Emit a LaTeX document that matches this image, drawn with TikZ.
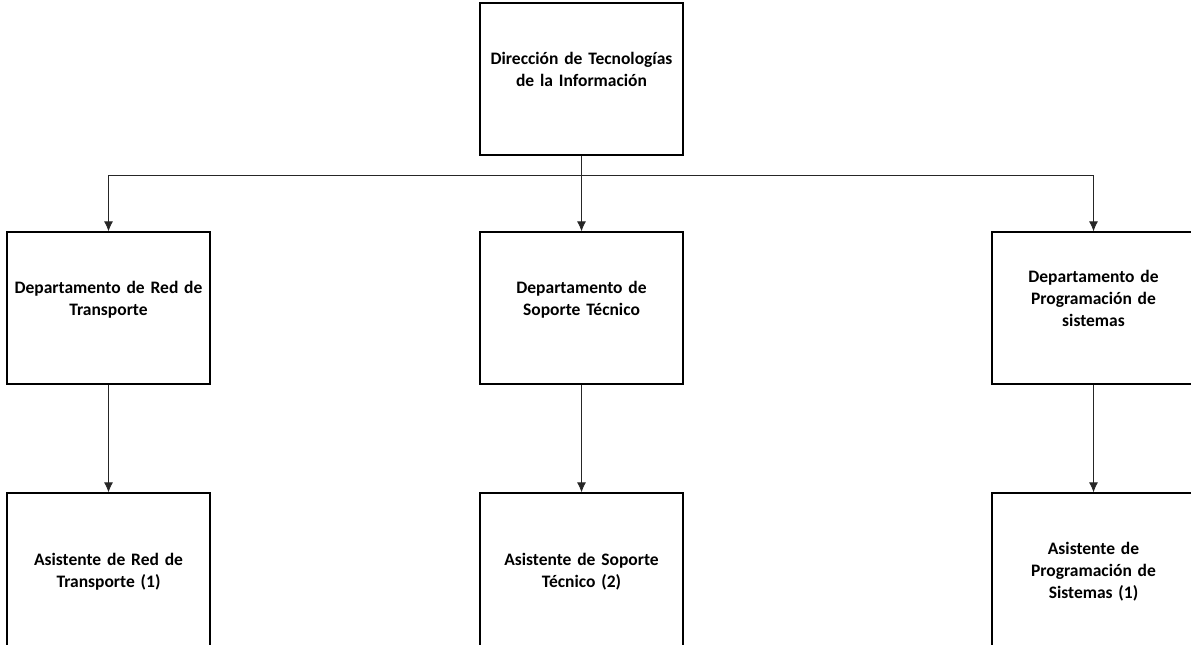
\documentclass[tikz,border=0pt]{standalone}
\usepackage{fontspec}
\setmainfont{Carlito}
\usetikzlibrary{arrows.meta}
\tikzset{>={Latex[length=10pt,width=9pt]}}
\tikzset{
  unit/.style={draw, line width=1.3pt, minimum width=203pt, minimum height=152pt,
    align=center, text width=195pt, inner sep=0pt,
    execute at end node={\rule[-20pt]{0pt}{0pt}},
    font=\fontsize{17.5}{22}\selectfont\bfseries},
  subunit/.style={unit, minimum height=174pt},
  link/.style={->, line width=0.8pt, draw=black!85}
}

\begin{document}
\begin{tikzpicture}[x=1pt,y=-1pt]
\useasboundingbox (0,0) rectangle (1191,645);
\clip (0,0) rectangle (1191,645);
% direction
\node[unit] (dir) at (581.5,79) {Dirección de Tecnologías\\de la Información};
% departments
\node[unit] (red)  at (108.5,308)  {Departamento de Red de\\Transporte};
\node[unit] (sop)  at (581.5,308)  {Departamento de\\Soporte Técnico};
\node[unit] (prog) at (1093.5,308) {Departamento de\\Programación de\\sistemas};
% assistants
\node[subunit] (ared)  at (108.5,580)  {Asistente de Red de\\Transporte (1)};
\node[subunit] (asop)  at (581.5,580)  {Asistente de Soporte\\Técnico (2)};
\node[subunit] (aprog) at (1093.5,580) {Asistente de\\Programación de\\Sistemas (1)};
% bus
\coordinate (bus) at (0,175);
\draw[link] (dir.south) -- (dir.south |- bus) -| (red.north);
\draw[link] (dir.south) -- (sop.north);
\draw[link] (dir.south) -- (dir.south |- bus) -| (prog.north);
% down
\draw[link] (red.south) -- (ared.north);
\draw[link] (sop.south) -- (asop.north);
\draw[link] (prog.south) -- (aprog.north);
\end{tikzpicture}
\end{document}
